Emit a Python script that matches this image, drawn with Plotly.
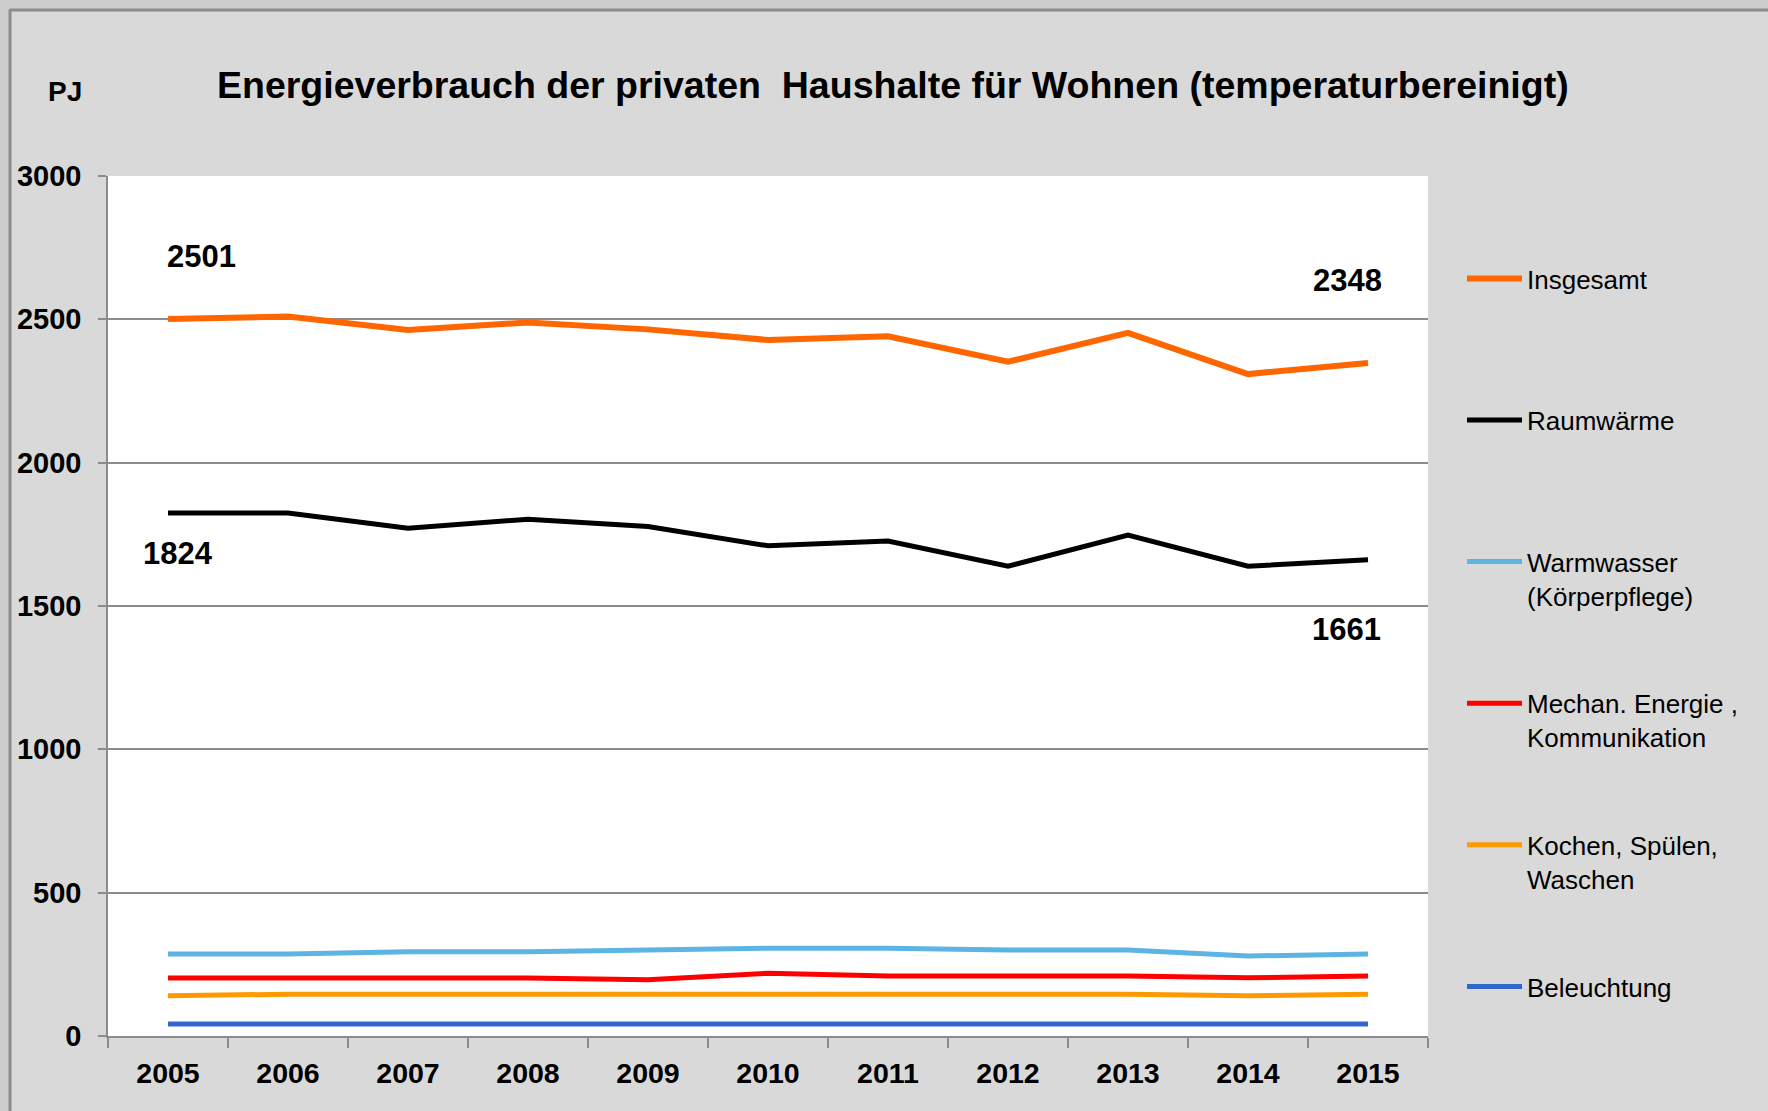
import plotly.graph_objects as go

years = ["2005", "2006", "2007", "2008", "2009", "2010", "2011", "2012", "2013", "2014", "2015"]

insgesamt   = [2501, 2510, 2463, 2489, 2465, 2428, 2441, 2352, 2453, 2309, 2348]
raumwaerme  = [1824, 1824, 1771, 1803, 1777, 1710, 1727, 1639, 1747, 1639, 1661]
warmwasser  = [286, 286, 294, 294, 300, 306, 306, 300, 300, 279, 286]
mechan      = [202, 202, 202, 202, 196, 219, 209, 209, 209, 203, 209]
kochen      = [140, 146, 146, 146, 146, 146, 146, 146, 146, 140, 146]
beleuchtung = [42, 42, 42, 42, 42, 42, 42, 42, 42, 42, 42]

series_names = ["Insgesamt", "Raumwärme", "Warmwasser<br>(Körperpflege)",
                "Mechan. Energie ,<br>Kommunikation", "Kochen, Spülen,<br>Waschen", "Beleuchtung"]
series_values = [insgesamt, raumwaerme, warmwasser, mechan, kochen, beleuchtung]
series_colors = ["#FF6600", "#000000", "#5BB4E1", "#FF0000", "#FF9900", "#3366CC"]
series_widths = [6, 5, 5, 5, 5, 5]

title_text = "Energieverbrauch der privaten  Haushalte für Wohnen (temperaturbereinigt)"

W, H = 1768, 1111
L, R, T, B = 108, 1768 - 1428, 176, 1111 - 1036
pw, ph = W - L - R, H - T - B

def px(x):
    return (x - L) / pw

def py(y):
    return 1 - (y - T) / ph

FONT = "Liberation Sans, Arial, sans-serif"

fig = go.Figure()
for i, (name, vals, col, lw) in enumerate(zip(series_names, series_values, series_colors, series_widths)):
    label = name if "<br>" in name else name + "<br> "
    fig.add_trace(go.Scatter(
        x=years, y=vals, mode="lines", name=label,
        line=dict(color=col, width=lw, shape="linear"),
        legendgroup=str(i), hoverinfo="skip",
    ))

i0, i1 = 0, len(years) - 1
annots = [
    dict(x=i0, y=insgesamt[i0], text=str(insgesamt[i0]), xshift=33, yshift=63),
    dict(x=i0, y=raumwaerme[i0], text=str(raumwaerme[i0]), xshift=10, yshift=-40),
    dict(x=i1, y=insgesamt[i1], text=str(insgesamt[i1]), xshift=-21, yshift=82),
    dict(x=i1, y=raumwaerme[i1], text="1661", xshift=-22, yshift=-70),
]
for a in annots:
    a.update(showarrow=False, font=dict(family=FONT, size=31, color="#000000", weight="bold"),
             xref="x", yref="y", xanchor="center", yanchor="middle")

annots.append(dict(text="PJ", x=px(65), y=py(92), xref="paper", yref="paper", showarrow=False,
                   xanchor="center", yanchor="middle",
                   font=dict(family=FONT, size=28, color="#000000", weight="bold")))
annots.append(dict(text=title_text, x=px(893), y=py(85), xref="paper", yref="paper", showarrow=False,
                   xanchor="center", yanchor="middle",
                   font=dict(family=FONT, size=37.5, color="#000000", weight="bold")))

shapes = [
    dict(type="rect", xref="paper", yref="paper", x0=px(-5), x1=px(W + 5), y0=py(-5), y1=py(9),
         line=dict(width=0), fillcolor="#CDCDCD", layer="below"),
    dict(type="rect", xref="paper", yref="paper", x0=px(-5), x1=px(9), y0=py(-5), y1=py(H + 5),
         line=dict(width=0), fillcolor="#CDCDCD", layer="below"),
    dict(type="line", xref="paper", yref="paper", x0=px(9.5), x1=px(W + 5), y0=py(10), y1=py(10),
         line=dict(color="#8C8C8C", width=3)),
    dict(type="line", xref="paper", yref="paper", x0=px(10), x1=px(10), y0=py(9.5), y1=py(H + 5),
         line=dict(color="#8C8C8C", width=3)),
]

fig.update_layout(
    width=W, height=H,
    margin=dict(l=L, r=R, t=T, b=B, pad=0),
    paper_bgcolor="#D9D9D9",
    plot_bgcolor="#FFFFFF",
    font=dict(family=FONT, color="#000000"),
    showlegend=True,
    legend=dict(
        x=px(1462), y=py(255), xanchor="left", yanchor="top",
        bgcolor="rgba(0,0,0,0)", borderwidth=0,
        font=dict(family=FONT, size=26, color="#000000"),
        valign="top", tracegroupgap=71, itemwidth=55,
        traceorder="grouped",
    ),
    annotations=annots,
    shapes=shapes,
    xaxis=dict(
        type="category", showgrid=False, zeroline=False,
        showline=True, linecolor="#8C8C8C", linewidth=2,
        ticks="outside", tickson="boundaries", ticklen=10, tickwidth=2, tickcolor="#8C8C8C",
        tickfont=dict(family=FONT, size=28.5, color="#000000", weight="bold"),
        ticklabelstandoff=11,
        range=[-0.5, 10.5], fixedrange=True,
    ),
    yaxis=dict(
        range=[0, 3000], dtick=500, tick0=0,
        showgrid=True, gridcolor="#8C8C8C", gridwidth=1.5,
        zeroline=False, showline=True, linecolor="#8C8C8C", linewidth=1.5,
        ticks="outside", ticklen=8, tickwidth=1.5, tickcolor="#8C8C8C",
        tickfont=dict(family=FONT, size=29, color="#000000", weight="bold"),
        ticklabelstandoff=11,
        fixedrange=True,
    ),
)

fig.write_html("out.html", config={"displayModeBar": False},
               post_script="document.body.style.margin='0';document.body.style.padding='0';")
